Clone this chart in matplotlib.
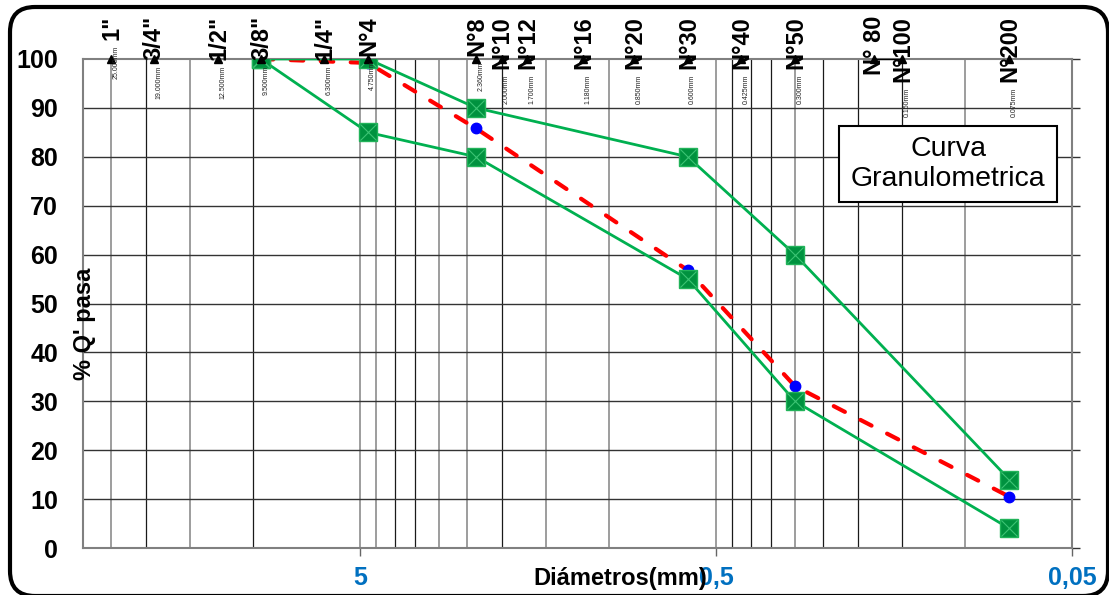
import matplotlib.pyplot as plt
from matplotlib.patches import FancyBboxPatch, Rectangle
from matplotlib.transforms import IdentityTransform
from matplotlib.ticker import NullLocator

plt.rcParams['font.family'] = ['Liberation Sans', 'DejaVu Sans']

# sieves (ASTM) shown on top of the chart
sieve_names = ['1"', '3/4"', '1/2"', '3/8"', '1/4"', 'N°4', 'N°8', 'N°10', 'N°12',
               'N°16', 'N°20', 'N°30', 'N°40', 'N°50', 'N° 80', 'N°100', 'N°200']
sieve_mm = [25.0, 19.0, 12.5, 9.5, 6.3, 4.75, 2.36, 2.0, 1.7,
            1.18, 0.85, 0.6, 0.425, 0.3, 0.18, 0.15, 0.075]
sieve_mm_labels = ['25.000mm', '19.000mm', '12.500mm', '9.500mm', '6.300mm', '4.750mm',
                   '2.360mm', '2.000mm', '1.700mm', '1.180mm', '0.850mm', '0.600mm',
                   '0.425mm', '0.300mm', '', '0.150mm', '0.075mm']

# gradation band and sample curve
sample_mm = [9.5, 4.75, 2.36, 0.6, 0.3, 0.075]
upper_pct = [100, 100, 90, 80, 60, 14]
lower_pct = [100, 85, 80, 55, 30, 4]
passing_pct = [100, 99.2, 85.8, 56.8, 33.1, 10.5]

y_ticks = list(range(0, 101, 10))
x_ticks = [5, 0.5, 0.05]
x_tick_labels = ['5', '0,5', '0,05']
grid_light = [25, 15, 5, 4.5, 3, 2.5, 1.5, 1, 0.5, 0.3, 0.1]
grid_dark = [20, 10, 4, 3.5, 2, 0.45, 0.4, 0.35, 0.25, 0.2, 0.15]

W, H = 1109, 595
fig = plt.figure(figsize=(W / 100, H / 100), dpi=100)
ax = fig.add_axes([83 / W, 47 / H, 989 / W, 489 / H])
ax.set_xscale('log')
ax.set_xlim(30, 0.05)
ax.set_ylim(0, 100)

# grid
for d in grid_light:
    ax.axvline(d, color='#8c8c8c', lw=1.2, zorder=1)
for d in grid_dark:
    ax.axvline(d, color='#1a1a1a', lw=0.9, zorder=1)
for v in y_ticks[1:-1]:
    ax.axhline(v, color='#333333', lw=1, zorder=1)

# sample curve
ax.plot(sample_mm, passing_pct, color='red', lw=3, dashes=(3.0, 4.2),
        dash_capstyle='round', zorder=3)
ax.plot(sample_mm, passing_pct, 'o', color='#0000ff', ms=7.5, zorder=4)

# limits
for pct in [upper_pct, lower_pct]:
    ax.plot(sample_mm, pct, color='#00b050', lw=2, zorder=5)
    ax.plot(sample_mm, pct, 's', ms=13, mfc='#00923f', mec='#22b35a', mew=1, zorder=6)
    ax.plot(sample_mm, pct, 'x', ms=11, color='#3cc474', mew=0.8, zorder=7)

# sieve markers and labels
top = [100] * len(sieve_mm)
ax.plot(sieve_mm, top, '^', color='black', ms=6, clip_on=False, zorder=8)
ax.plot(sieve_mm[-3:-1], top[-3:-1], color='black', lw=1, clip_on=False, zorder=8)
for name, d, mm in zip(sieve_names, sieve_mm, sieve_mm_labels):
    t = ax.annotate(name, (d, 100), xytext=(0.5, 31), textcoords='offset points',
                    rotation=90, ha='center', va='top', fontsize=17,
                    fontweight='bold', zorder=9, annotation_clip=False)
    if mm:
        ax.annotate(mm, (0.5, 0), xycoords=t, xytext=(3, -4), textcoords='offset points',
                    rotation=90, ha='center', va='top', fontsize=5,
                    color='#222222', zorder=9)

for s in ax.spines.values():
    s.set_color('#808080')
    s.set_linewidth(1.5)

ax.set_xticks(x_ticks)
ax.set_xticklabels(x_tick_labels, color='#0070c0', fontweight='bold', fontsize=18)
ax.xaxis.set_minor_locator(NullLocator())
ax.tick_params(axis='x', length=6, width=1, color='#666666', pad=7)
ax.set_yticks(y_ticks)
ax.set_yticklabels([str(v) for v in y_ticks], fontweight='bold', fontsize=18)
ax.tick_params(axis='y', left=False, right=True, length=6, width=1,
               color='#333333', pad=12)

fig.text(620 / W, 1 - 578 / H, 'Diámetros(mm)', ha='center', va='center',
         fontsize=17, fontweight='bold')
fig.text(85 / W, 1 - 324 / H, "% Q' pasa", ha='center', va='center',
         rotation=90, fontsize=17, fontweight='bold')

# title box
fig.add_artist(Rectangle((839 / W, 1 - 202 / H), 218 / W, 76 / H,
                         transform=fig.transFigure, facecolor='white',
                         edgecolor='black', lw=1.5, zorder=5))
fig.text(948 / W, 1 - 164 / H, 'Curva\nGranulometrica', ha='center', va='center',
         fontsize=20.5, linespacing=1.15, zorder=6)

# chart frame
fig.add_artist(FancyBboxPatch((10, -1), 1098, 589,
                              boxstyle='round,pad=0,rounding_size=25',
                              transform=IdentityTransform(), facecolor='none',
                              edgecolor='black', lw=3))

fig.savefig('out.png', dpi=100)
